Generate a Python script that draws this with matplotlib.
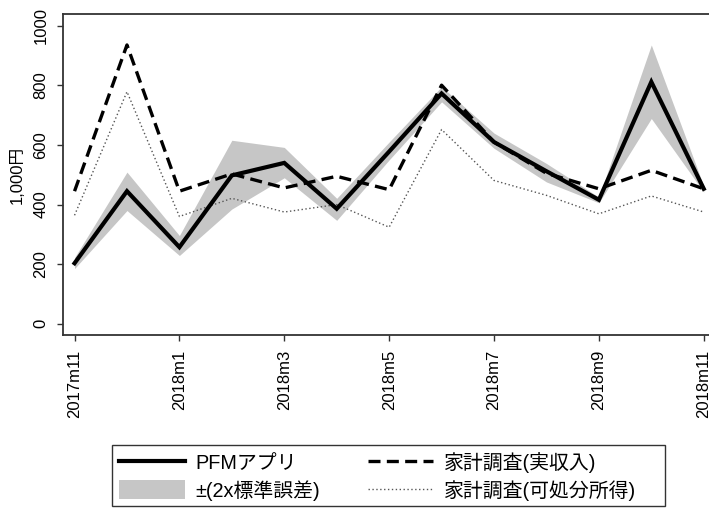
import matplotlib
matplotlib.use("Agg")
import matplotlib.pyplot as plt
from matplotlib.patches import Patch, Rectangle
from matplotlib.lines import Line2D
import numpy as np

plt.rcParams['font.family'] = ['Liberation Sans', 'Noto Sans CJK JP']

# data (1,000 yen), 2017m11 .. 2018m11
months = ["2017m11", "2017m12", "2018m1", "2018m2", "2018m3", "2018m4", "2018m5",
          "2018m6", "2018m7", "2018m8", "2018m9", "2018m10", "2018m11"]
pfm = [203, 445, 257, 498, 540, 386, 578, 773, 610, 512, 416, 812, 453]
pfm_hi = [222, 509, 296, 616, 592, 421, 610, 796, 640, 538, 425, 936, 462]
pfm_lo = [185, 380, 229, 385, 490, 347, 550, 745, 589, 476, 406, 689, 442]
jisshu = [445, 936, 445, 503, 456, 495, 450, 801, 610, 505, 453, 515, 453]
kashobun = [364, 779, 360, 421, 375, 400, 324, 652, 481, 431, 369, 429, 375]

tick_idx = [0, 2, 4, 6, 8, 10, 12]
ytick_vals = [0, 200, 400, 600, 800, 1000]

x = np.arange(len(months))

fig = plt.figure(figsize=(7.09, 5.08), dpi=100)
ax = fig.add_axes([63 / 709, 1 - 335 / 508, 1 - 63 / 709, (335 - 14) / 508])

ax.fill_between(x, pfm_lo, pfm_hi, color='#c6c6c6', lw=0, zorder=1)
ax.plot(x, kashobun, color='#555555', lw=1.0, dashes=(1, 1.8), zorder=2)
ax.plot(x, jisshu, color='black', lw=2.4, dashes=(3.6, 1.9), zorder=3)
ax.plot(x, pfm, color='black', lw=3.0, solid_joinstyle='miter', zorder=4)

ax.set_xlim(-0.22, 12.1)
ax.set_ylim(-38, 1040)
ax.set_xticks(tick_idx)
ax.set_xticklabels([months[i] for i in tick_idx], rotation=90, fontsize=12)
ax.set_yticks(ytick_vals)
ax.set_yticklabels([str(v) for v in ytick_vals], rotation=90, va='center', fontsize=12)
ax.tick_params(length=4.5, width=1.0, color='#333333', pad=6)
ax.set_ylabel("1,000円", fontsize=12, labelpad=6)

for s in ['left', 'bottom', 'top']:
    ax.spines[s].set_color('#333333')
    ax.spines[s].set_linewidth(1.3)
ax.spines['right'].set_visible(False)

# legend frame drawn by hand so its width matches
fig.patches.append(Rectangle((112 / 709, 1 - 506 / 508), (665 - 112) / 709, (506 - 445) / 508,
                             transform=fig.transFigure, fill=False,
                             edgecolor='#333333', lw=1.0))

handles = [
    Line2D([], [], color='black', lw=3.0),
    Patch(facecolor='#c6c6c6', edgecolor='none'),
    Line2D([], [], color='black', lw=2.4, dashes=(3.6, 1.9)),
    Line2D([], [], color='#555555', lw=1.0, dashes=(1, 1.8)),
]
labels = ["PFMアプリ", "±(2x標準誤差)", "家計調査(実収入)", "家計調査(可処分所得)"]
leg = fig.legend(handles, labels, ncol=2, loc='upper left',
                 bbox_to_anchor=(119 / 709, 1 - 452 / 508),
                 fontsize=14.3, frameon=False,
                 handlelength=3.3, handleheight=1.1, handletextpad=0.55,
                 columnspacing=2.4, borderpad=0, labelspacing=0.35, borderaxespad=0)

fig.savefig("out.png", dpi=100)
